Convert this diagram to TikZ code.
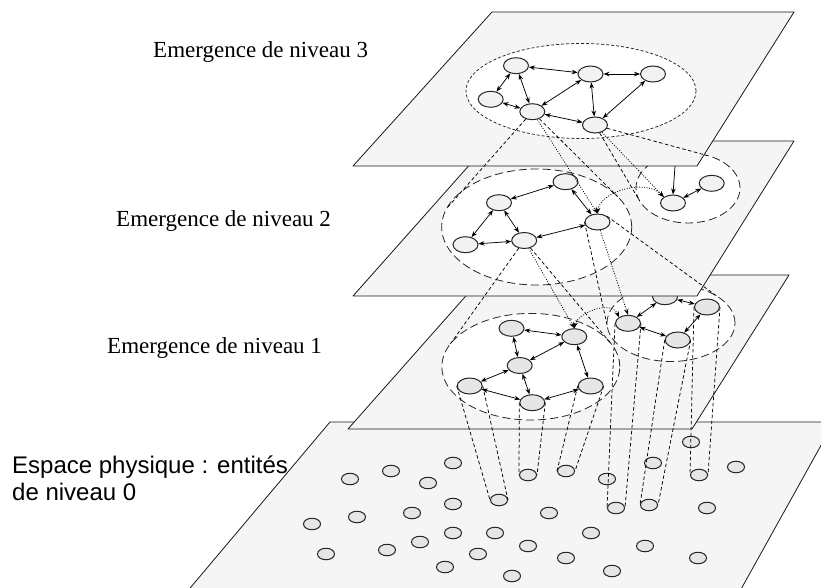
\documentclass[tikz,border=0pt]{standalone}
\usepackage{fontspec}
\setmainfont{Liberation Serif}
\setsansfont{Liberation Sans}
\usetikzlibrary{arrows.meta,shapes.geometric}
\definecolor{planefill}{RGB}{245,245,245}
\definecolor{nodedark}{RGB}{230,230,230}
\definecolor{nodelight}{RGB}{242,242,242}
\pgfdeclarelayer{p0}\pgfdeclarelayer{n0}\pgfdeclarelayer{p1}\pgfdeclarelayer{g1}
\pgfdeclarelayer{c1}\pgfdeclarelayer{n1}\pgfdeclarelayer{a1}\pgfdeclarelayer{p2}
\pgfdeclarelayer{g2}\pgfdeclarelayer{c2}\pgfdeclarelayer{n2}\pgfdeclarelayer{a2}
\pgfdeclarelayer{p3}\pgfdeclarelayer{g3}\pgfdeclarelayer{c3}\pgfdeclarelayer{n3}
\pgfsetlayers{p0,n0,p1,g1,c1,n1,a1,p2,g2,c2,n2,a2,p3,g3,c3,n3,main}
\begin{document}
\begin{tikzpicture}[x=1pt,y=-1pt,
 plane/.style={draw=black!90, line width=0.8pt, fill=planefill, line join=round},
 grpfill/.style={fill=white},
 grp/.style={draw=black!85, line width=0.8pt, dash pattern=on 8pt off 4pt},
 grpshort/.style={draw=black!85, line width=0.75pt, dash pattern=on 3pt off 2pt},
 nd/.style={ellipse, draw=black!85, line width=1pt, inner sep=0pt, minimum width=25pt, minimum height=16pt},
 n1/.style={nd, fill=nodedark},
 n2/.style={nd, fill=nodelight},
 nz/.style={ellipse, draw=black!85, line width=1pt, inner sep=0pt, minimum width=17pt, minimum height=11.5pt, fill=nodedark},
 tip/.tip={Stealth[length=6pt,width=4.5pt]},
 link/.style={line width=0.75pt, tip-tip},
 cone/.style={line width=0.75pt, dash pattern=on 3.5pt off 2.5pt},
 dots/.style={line width=0.75pt, dash pattern=on 1pt off 1.5pt},
 dotarrow/.style={dots, -tip},
 dotboth/.style={dots, tip-tip},
 lbl/.style={font=\fontsize{23}{27}\selectfont, anchor=base west, inner sep=0pt},
 slbl/.style={font=\sffamily\fontsize{24}{27}\selectfont, anchor=base west, inner sep=0pt},
]
\clip (0,0) rectangle (821,588);

% ---------------- level 0
\begin{pgfonlayer}{p0}
\draw[plane] (330,422) -- (834,422) -- (735,600) -- (180,600) -- cycle;
\end{pgfonlayer}
\begin{pgfonlayer}{n0}
\foreach \i/\x/\y in {1/453/463,2/391/471,3/350/479,4/428/483,5/453/504,6/499/500,
  7/528/475,8/412/513,9/357/517,10/312/524,11/453/533,12/495/533,13/420/542,
  14/387/550,15/326/554,16/478/554,17/528/546,18/445/567,19/512/576,20/549/513,
  21/691/442,22/566/471,23/653/463,24/607/479,25/699/475,26/736/467,27/616/508,
  28/649/505,29/707/508,30/591/533,31/645/546,32/566/558,33/698/558,34/612/571}
  {\node[nz] (z\i) at (\x,\y) {};}
\end{pgfonlayer}

% ---------------- level 1
\begin{pgfonlayer}{p1}
\draw[plane] (484.4,275) -- (789,275) -- (692,429) -- (348,429) -- cycle;
\end{pgfonlayer}
\begin{pgfonlayer}{g1}
\fill[grpfill] (530.8,366.7) ellipse [x radius=89pt, y radius=53.3pt];
\fill[grpfill] (671,323) ellipse [x radius=64pt, y radius=38.5pt];
\draw[grp] (530.8,366.7) ellipse [x radius=89pt, y radius=53.3pt];
\draw[grp] (671,323) ellipse [x radius=64pt, y radius=38.5pt];
\end{pgfonlayer}
\begin{pgfonlayer}{n1}
\node[n1] (T1) at (511.5,328.3) {};
\node[n1] (T2) at (574.3,336.7) {};
\node[n1] (Mi) at (519.7,365.5) {};
\node[n1] (J)  at (469.7,386) {};
\node[n1] (K)  at (532.3,402.7) {};
\node[n1] (L)  at (590.7,386) {};
\node[n1] (P)  at (665,296.7) {};
\node[n1] (M)  at (628,323.3) {};
\node[n1] (N)  at (677.7,340) {};
\node[n1] (O)  at (707,307) {};
\foreach \a/\b in {T1/T2,T1/Mi,T2/Mi,T2/L,Mi/J,Mi/K,J/K,K/L,P/M,P/O,M/N,O/N}
  {\draw[link] (\a) -- (\b);}
\end{pgfonlayer}
\begin{pgfonlayer}{c1}
\foreach \a/\b in {J/z6,K/z7,L/z22,M/z27,N/z28,O/z25}
  {\draw[cone] (\a.west) -- (\b.west) (\a.east) -- (\b.east);}
\end{pgfonlayer}
\begin{pgfonlayer}{a1}
\draw[dotboth] (T2.north) .. controls (578,312) and (612,300) .. (M.north west);
\end{pgfonlayer}

% ---------------- level 2
\begin{pgfonlayer}{p2}
\draw[plane] (490.7,141) -- (794,141) -- (697,296) -- (353,296) -- cycle;
\end{pgfonlayer}
\begin{pgfonlayer}{g2}
\fill[grpfill] (536.7,227) ellipse [x radius=95pt, y radius=58pt];
\fill[grpfill] (688,188) ellipse [x radius=52pt, y radius=35pt];
\draw[grp] (536.7,227) ellipse [x radius=95pt, y radius=58pt];
\draw[grp] (688,188) ellipse [x radius=52pt, y radius=35pt];
\end{pgfonlayer}
\begin{pgfonlayer}{n2}
\node[n2] (G)  at (565.5,181.7) {};
\node[n2] (H)  at (499,202.7) {};
\node[n2] (I)  at (597.5,222) {};
\node[n2] (Jn) at (465.5,244.7) {};
\node[n2] (K2) at (524.2,240.5) {};
\node[n2] (S1) at (673,203) {};
\node[n2] (S2) at (711.7,183.3) {};
\foreach \a/\b in {G/H,G/I,H/Jn,H/K2,Jn/K2,K2/I,S1/S2}
  {\draw[link] (\a) -- (\b);}
\end{pgfonlayer}
\begin{pgfonlayer}{c2}
\coordinate (tLa) at (449,345.8);
\coordinate (tLb) at (610.3,342.8);
\coordinate (tRa) at (607.1,325.1);
\coordinate (tRb) at (717,296.2);
\draw[cone] (K2) -- (tLa) (K2) -- (tLb);
\draw[cone] (I.west) -- (tRa) (I.north east) -- (tRb);
\draw[dotarrow] (K2) -- (T2.north);
\draw[dotarrow] (I) -- (M.north);
\end{pgfonlayer}
\begin{pgfonlayer}{a2}
\draw[dotboth] (I.north) .. controls (600,192) and (645,178) .. (S1.north west);
\end{pgfonlayer}

% ---------------- level 3
\begin{pgfonlayer}{p3}
\draw[plane] (492,12) -- (794,12) -- (697,166) -- (353,166) -- cycle;
\end{pgfonlayer}
\begin{pgfonlayer}{g3}
\fill[grpfill] (581,91) ellipse [x radius=115pt, y radius=47.5pt];
\draw[grpshort] (581,91) ellipse [x radius=115pt, y radius=47.5pt];
\end{pgfonlayer}
\begin{pgfonlayer}{n3}
\node[n2] (A) at (516,65.7) {};
\node[n2] (B) at (590.5,74) {};
\node[n2] (C) at (653,74) {};
\node[n2] (D) at (490.7,99.3) {};
\node[n2] (E) at (532.3,111.7) {};
\node[n2] (F) at (595,125) {};
\foreach \a/\b in {A/B,B/C,A/D,A/E,D/E,E/B,B/F,C/F,E/F}
  {\draw[link] (\a) -- (\b);}
\end{pgfonlayer}
\begin{pgfonlayer}{c3}
\coordinate (uLa) at (447,208);
\coordinate (uLb) at (617.5,196.5);
\coordinate (uSa) at (707.5,155.6);
\coordinate (uSb) at (639.6,200.9);
\coordinate (sa) at (675,166);
\draw[cone] (E) -- (uLa) (E) -- (uLb);
\draw[cone] (F) -- (uSa) (F) -- (uSb);
\draw[dotarrow] (E) -- (I.north);
\draw[dotarrow] (F) -- (S1.north west);
\draw[line width=0.75pt, -tip] (sa) -- (S1.north);
\end{pgfonlayer}

% ---------------- labels
\node[lbl] (lab3) at (153,58) {Emergence de niveau 3};
\node[lbl] (lab2) at (116,226) {Emergence de niveau 2};
\node[lbl] (lab1) at (107,353) {Emergence de niveau 1};
\node[slbl] (lab0a) at (12,473) {Espace physique : entités};
\node[slbl] (lab0b) at (12,500) {de niveau 0};
\end{tikzpicture}
\end{document}
